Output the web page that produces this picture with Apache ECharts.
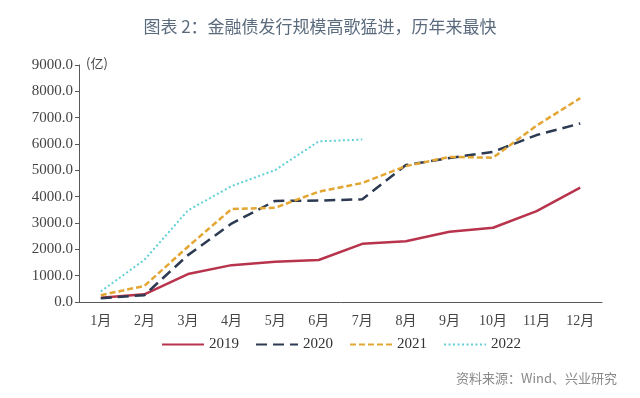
<!DOCTYPE html>
<html>
<head>
<meta charset="utf-8">
<script src="https://cdn.jsdelivr.net/npm/echarts@6/dist/echarts.min.js"></script>
<style>
  html, body { margin: 0; padding: 0; background: #fff; }
  #chart { width: 640px; height: 398px; }
</style>
</head>
<body>
<div id="chart"></div>
<script>
const months = ['1月', '2月', '3月', '4月', '5月', '6月', '7月', '8月', '9月', '10月', '11月', '12月']
const y2019 = [165, 290, 1060, 1400, 1530, 1595, 2210, 2310, 2670, 2820, 3450, 4340]
const y2020 = [140, 260, 1780, 2980, 3840, 3850, 3900, 5200, 5470, 5700, 6340, 6780]
const y2021 = [260, 610, 2100, 3530, 3580, 4190, 4520, 5160, 5510, 5480, 6700, 7740]
const y2022 = [400, 1600, 3480, 4400, 5010, 6100, 6170]

const serif = '"Liberation Serif", "Noto Sans CJK SC", serif'
const sans = '"Noto Sans CJK SC", sans-serif'
const axisColor = '#595959'

const chart = echarts.init(document.getElementById('chart'))

const line = (name, data, color, type, width) => ({
  name,
  type: 'line',
  data,
  symbol: 'none',
  lineStyle: { color, type, width },
  itemStyle: { color }
})

chart.setOption({
  animation: false,
  title: {
    text: '图表 2：金融债发行规模高歌猛进，历年来最快',
    left: 'center',
    top: 13,
    textStyle: { fontFamily: sans, fontSize: 17, fontWeight: 'normal', color: '#5b6b7e' }
  },
  legend: {
    top: 332,
    left: 156,
    itemWidth: 42,
    itemHeight: 10,
    itemGap: 16,
    itemStyle: { opacity: 0 },
    textStyle: { fontFamily: serif, fontSize: 15, color: '#333' },
    data: ['2019', '2020', '2021', '2022']
  },
  grid: { left: 79, right: 38, top: 65, bottom: 96 },
  xAxis: {
    type: 'category',
    data: months,
    axisLine: { lineStyle: { color: axisColor } },
    axisTick: { length: 4, lineStyle: { color: axisColor } },
    axisLabel: { fontFamily: serif, fontSize: 14, color: '#444', margin: 12 }
  },
  yAxis: {
    type: 'value',
    min: 0,
    max: 9000,
    interval: 1000,
    splitLine: { show: false },
    axisLine: { show: true, lineStyle: { color: axisColor } },
    axisTick: { show: true, length: 4, lineStyle: { color: axisColor } },
    axisLabel: {
      fontFamily: serif, fontSize: 15, color: '#444', margin: 6,
      formatter: v => v.toFixed(1)
    }
  },
  series: [
    line('2019', y2019, '#b8334c', 'solid', 2.5),
    line('2020', y2020, '#2c3a52', [11, 6], 2.5),
    line('2021', y2021, '#e3a633', [6, 3], 2.5),
    line('2022', y2022, '#62d0d6', [2, 2.5], 2)
  ],
  graphic: [{
    type: 'text',
    left: 86,
    top: 57,
    style: { text: '(亿)', font: '13px ' + sans, fill: '#444' }
  }, {
    type: 'text',
    right: 23,
    top: 372,
    style: { text: '资料来源：Wind、兴业研究', font: '13px ' + sans, fill: '#8a8a8a' }
  }]
})
</script>
</body>
</html>
